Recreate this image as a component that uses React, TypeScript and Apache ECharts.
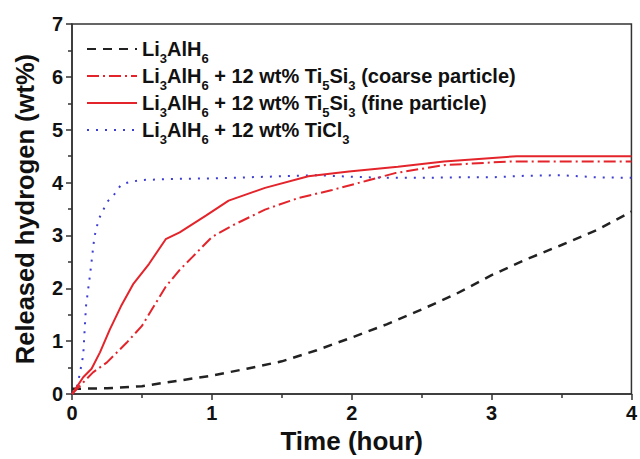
import React, { useEffect, useRef } from 'react';
import * as echarts from 'echarts';

// Li3AlH6
const baseTime = [0, 0.25, 0.5, 0.75, 1, 1.25, 1.5, 1.75, 2, 2.25, 2.5, 2.75, 3, 3.25, 3.5, 3.75, 4];
const baseValues = [0.1, 0.11, 0.15, 0.25, 0.35, 0.48, 0.62, 0.83, 1.07, 1.32, 1.6, 1.9, 2.25, 2.55, 2.82, 3.1, 3.45];

// + 12 wt% Ti5Si3 (coarse particle)
const coarseTime = [0, 0.08, 0.15, 0.25, 0.39, 0.5, 0.67, 0.77, 0.86, 1.0, 1.14, 1.38, 1.62, 1.86, 2.1, 2.31, 2.66, 3.13, 4];
const coarseValues = [0, 0.22, 0.41, 0.6, 0.97, 1.29, 2.03, 2.35, 2.59, 2.97, 3.18, 3.49, 3.71, 3.86, 4.03, 4.18, 4.33, 4.4, 4.4];

// + 12 wt% Ti5Si3 (fine particle)
const fineTime = [0, 0.08, 0.14, 0.2, 0.27, 0.35, 0.44, 0.55, 0.67, 0.77, 0.96, 1.12, 1.38, 1.69, 1.98, 2.33, 2.66, 3.18, 4];
const fineValues = [0, 0.32, 0.48, 0.79, 1.22, 1.66, 2.09, 2.46, 2.93, 3.06, 3.38, 3.66, 3.9, 4.12, 4.21, 4.3, 4.4, 4.5, 4.5];

// + 12 wt% TiCl3
const ticlTime = [0, 0.04, 0.08, 0.1, 0.13, 0.16, 0.19, 0.22, 0.26, 0.31, 0.35, 0.41, 0.5, 0.75, 1, 1.25, 1.5, 1.75, 2, 2.25, 2.5, 2.75, 3, 3.25, 3.5, 3.75, 4];
const ticlValues = [0, 0.17, 0.73, 1.66, 2.28, 2.97, 3.3, 3.47, 3.66, 3.8, 3.96, 4.01, 4.05, 4.07, 4.08, 4.1, 4.12, 4.14, 4.11, 4.09, 4.09, 4.1, 4.1, 4.13, 4.14, 4.1, 4.09];

const seriesNames = [
  'Li3AlH6',
  'Li3AlH6 + 12 wt% Ti5Si3 (coarse particle)',
  'Li3AlH6 + 12 wt% Ti5Si3 (fine particle)',
  'Li3AlH6 + 12 wt% TiCl3',
];

const xTitle = 'Time (hour)';
const yTitle = 'Released hydrogen (wt%)';

const zip = (t: number[], v: number[]) => t.map((x, i) => [x, v[i]]);

const FONT = '"Liberation Sans", Arial, sans-serif';

export default function App() {
  const ref = useRef<HTMLDivElement>(null);
  useEffect(() => {
    if (!ref.current) return;
    const chart = echarts.init(ref.current, undefined, { renderer: 'svg' });
    const axisColor = '#333';
    chart.setOption({
      animation: false,
      backgroundColor: '#ffffff',
      textStyle: { fontFamily: FONT },
      grid: {
        left: 72,
        right: 5,
        top: 24,
        bottom: 60,
        show: true,
        borderColor: axisColor,
        borderWidth: 1.5,
        backgroundColor: 'transparent',
      },
      legend: {
        orient: 'vertical',
        left: 81,
        top: 28,
        itemWidth: 50,
        itemHeight: 14,
        itemGap: -5,
        data: seriesNames,
        itemStyle: { color: 'transparent', borderWidth: 0, opacity: 0 },
        formatter: (name: string) => name.replace(/([A-Za-z])(\d)/g, '$1{s|$2}'),
        textStyle: {
          fontFamily: FONT,
          fontSize: 20,
          fontWeight: 'bold',
          color: '#111',
          lineHeight: 32,
          rich: {
            s: {
              fontFamily: FONT,
              fontSize: 13,
              fontWeight: 'bold',
              color: '#111',
              lineHeight: 10,
              verticalAlign: 'bottom',
            },
          },
        },
      },
      xAxis: {
        type: 'value',
        min: 0,
        max: 4,
        interval: 1,
        name: xTitle,
        nameLocation: 'middle',
        nameGap: 33,
        nameTextStyle: { fontFamily: FONT, fontSize: 26, fontWeight: 'bold', color: '#111' },
        axisLine: { show: true, lineStyle: { color: axisColor, width: 1.5 } },
        axisTick: { show: true, length: 6, lineStyle: { color: axisColor, width: 1.5 } },
        minorTick: { show: true, splitNumber: 2, length: 4, lineStyle: { color: axisColor, width: 1.5 } },
        splitLine: { show: false },
        axisLabel: { fontFamily: FONT, fontSize: 20, fontWeight: 'bold', color: '#111', margin: 9 },
      },
      yAxis: {
        type: 'value',
        min: 0,
        max: 7,
        interval: 1,
        name: yTitle,
        nameLocation: 'middle',
        nameGap: 34,
        nameTextStyle: { fontFamily: FONT, fontSize: 25.5, fontWeight: 'bold', color: '#111' },
        axisLine: { show: true, lineStyle: { color: axisColor, width: 1.5 } },
        axisTick: { show: true, length: 6, lineStyle: { color: axisColor, width: 1.5 } },
        minorTick: { show: true, splitNumber: 2, length: 4, lineStyle: { color: axisColor, width: 1.5 } },
        splitLine: { show: false },
        axisLabel: { fontFamily: FONT, fontSize: 20, fontWeight: 'bold', color: '#111', margin: 9 },
      },
      series: [
        {
          name: seriesNames[0],
          type: 'line',
          symbol: 'none',
          showSymbol: false,
          data: zip(baseTime, baseValues),
          itemStyle: { color: '#222' },
          lineStyle: { color: '#222', width: 2.5, type: [9, 7] },
          z: 3,
        },
        {
          name: seriesNames[1],
          type: 'line',
          symbol: 'none',
          showSymbol: false,
          data: zip(coarseTime, coarseValues),
          itemStyle: { color: '#e3242b' },
          lineStyle: { color: '#e3242b', width: 2, type: [12, 4, 2, 4] },
          z: 4,
        },
        {
          name: seriesNames[2],
          type: 'line',
          symbol: 'none',
          showSymbol: false,
          data: zip(fineTime, fineValues),
          itemStyle: { color: '#e3242b' },
          lineStyle: { color: '#e3242b', width: 2 },
          z: 5,
        },
        {
          name: seriesNames[3],
          type: 'line',
          symbol: 'none',
          showSymbol: false,
          data: zip(ticlTime, ticlValues),
          itemStyle: { color: '#3d3dd4' },
          lineStyle: { color: '#3d3dd4', width: 2, type: [2, 7] },
          z: 2,
        },
      ],
    });
    return () => chart.dispose();
  }, []);
  return (
    <div
      ref={ref}
      style={{ position: 'fixed', left: 0, top: 0, width: 640, height: 459, background: '#fff' }}
    />
  );
}
